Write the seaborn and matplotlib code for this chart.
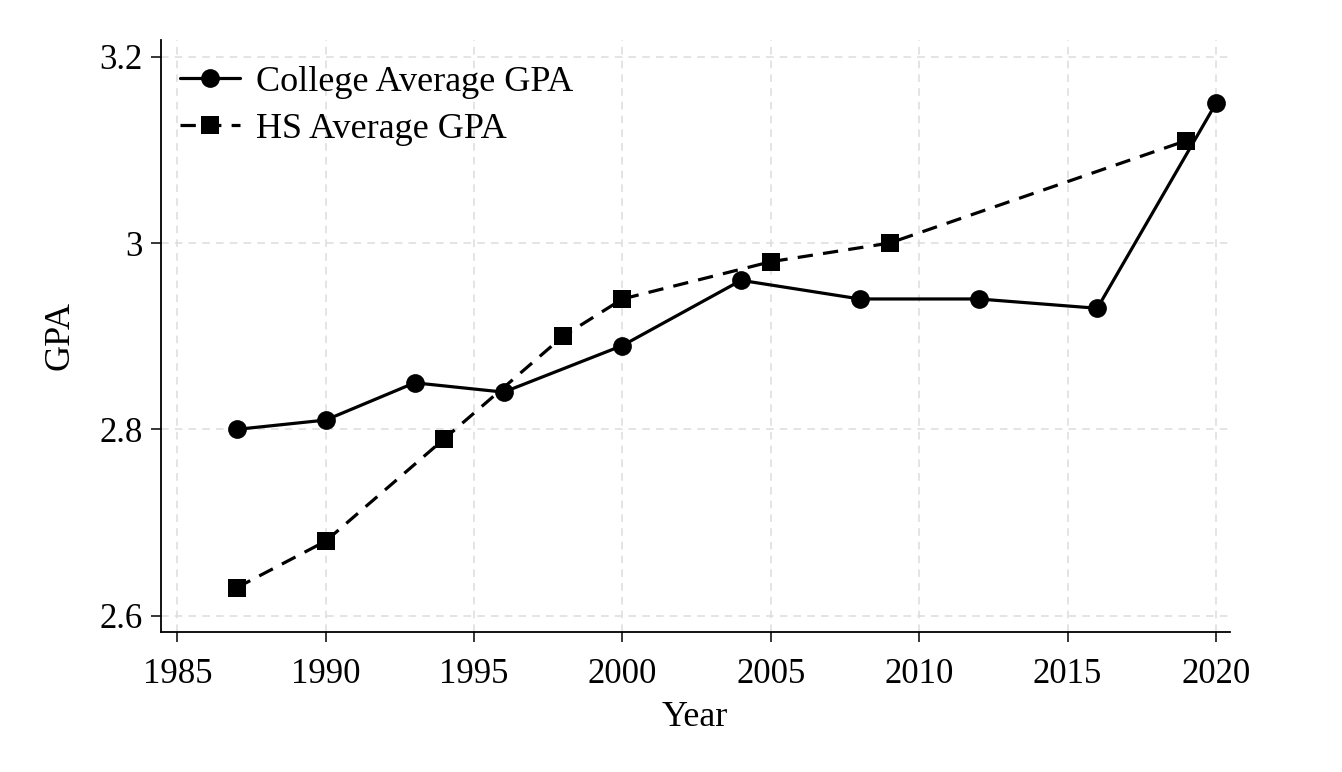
import matplotlib
matplotlib.use("Agg")
import matplotlib.pyplot as plt
import seaborn as sns
import pandas as pd

# data
college_years = [1987, 1990, 1993, 1996, 2000, 2004, 2008, 2012, 2016, 2020]
college_gpa = [2.80, 2.81, 2.85, 2.84, 2.89, 2.96, 2.94, 2.94, 2.93, 3.15]
hs_years = [1987, 1990, 1994, 1998, 2000, 2005, 2009, 2019]
hs_gpa = [2.63, 2.68, 2.79, 2.90, 2.94, 2.98, 3.00, 3.11]
x_ticks = [1985, 1990, 1995, 2000, 2005, 2010, 2015, 2020]
y_ticks = [2.6, 2.8, 3.0, 3.2]
y_labels = ["2.6", "2.8", "3", "3.2"]

sns.set_style("white")
plt.rcParams['font.family'] = ['Liberation Serif', 'DejaVu Serif']
plt.rcParams['text.color'] = 'black'
plt.rcParams['axes.labelcolor'] = 'black'
plt.rcParams['xtick.color'] = 'black'
plt.rcParams['ytick.color'] = 'black'

fig = plt.figure(figsize=(13.42, 7.72), dpi=100)
ax = fig.add_axes([0.1197, 0.1817, 0.7968, 0.7665])

df_c = pd.DataFrame({'Year': college_years, 'GPA': college_gpa})
df_h = pd.DataFrame({'Year': hs_years, 'GPA': hs_gpa})

sns.lineplot(data=df_c, x='Year', y='GPA', ax=ax, color='black', marker='o',
             markersize=13.5, markeredgewidth=0, linewidth=2.3,
             label='College Average GPA')
sns.lineplot(data=df_h, x='Year', y='GPA', ax=ax, color='black', marker='s',
             markersize=13, markeredgewidth=0, linewidth=2.3,
             label='HS Average GPA')
ax.lines[1].set_dashes([4.8, 3.2])

ax.set_xlim(1984.44, 2020.47)
ax.set_ylim(2.5828, 3.218)
ax.set_xticks(x_ticks)
ax.set_yticks(y_ticks)
ax.set_yticklabels(y_labels)

ax.grid(True, color='#dddddd', linestyle=(0, (5, 4)), linewidth=1.1)
ax.set_axisbelow(True)

for s in ['top', 'right']:
    ax.spines[s].set_visible(False)
for s in ['left', 'bottom']:
    ax.spines[s].set_color('black')
    ax.spines[s].set_linewidth(1.3)

ax.tick_params(axis='both', direction='out', length=7, width=1.1,
               color='black', labelcolor='black', labelsize=25,
               left=True, bottom=True)
ax.tick_params(axis='x', pad=12)
ax.tick_params(axis='y', pad=6)

ax.set_xlabel('Year', fontsize=26, labelpad=7, color='black')
ax.set_ylabel('GPA', fontsize=26, labelpad=16, color='black')

leg = ax.legend(loc='upper left', bbox_to_anchor=(0.0, 0.99), frameon=False,
                fontsize=26, handlelength=1.65, handletextpad=0.45,
                labelspacing=0.38, borderaxespad=0, borderpad=0.55)
for t in leg.get_texts():
    t.set_color('black')

fig.savefig('out.png', dpi=100)
